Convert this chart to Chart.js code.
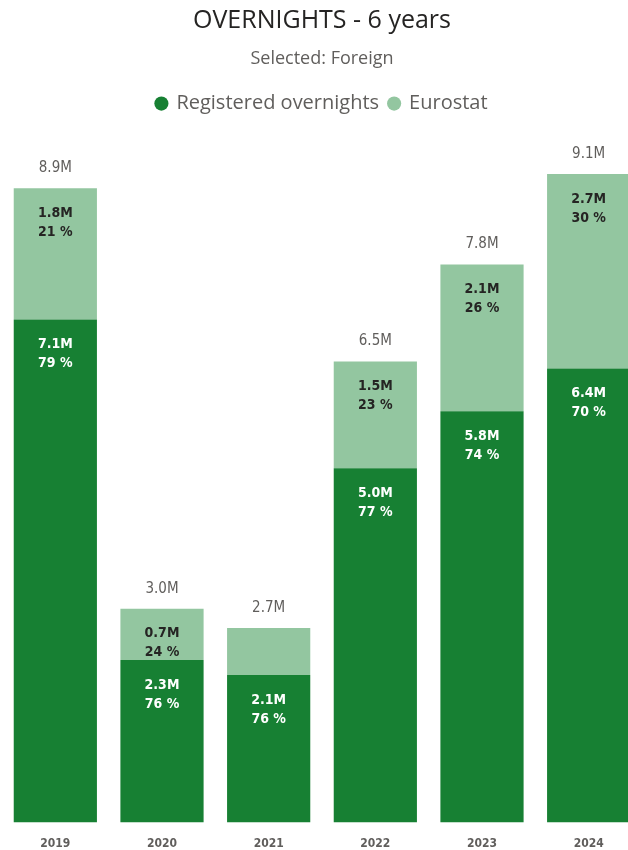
<!DOCTYPE html>
<html>
<head>
<meta charset="utf-8">
<script src="https://cdn.jsdelivr.net/npm/chart.js@4.4.1/dist/chart.umd.min.js"></script>
<style>
  html, body { margin: 0; padding: 0; background: #ffffff; overflow: hidden; }
  #wrap { width: 628px; height: 850px; overflow: hidden; position: relative; }
  #box { width: 642px; height: 850px; position: absolute; left: 0; top: 0; }
</style>
</head>
<body>
<div id="wrap"><div id="box"><canvas id="chart"></canvas></div></div>
<script>
// Overnights of foreign guests, millions
const years = ['2019', '2020', '2021', '2022', '2023', '2024'];
const registered = [7.06, 2.28, 2.07, 4.97, 5.77, 6.37];
const eurostat = [1.84, 0.72, 0.66, 1.50, 2.06, 2.73];
const seriesNames = ['Registered overnights', 'Eurostat'];

const DARK = '#178033';
const LIGHT = '#93C6A0';
const LABEL_FONT = '"DejaVu Sans Condensed", "DejaVu Sans", sans-serif';
const TEXT_FONT = '"Open Sans", sans-serif';

const fmtM = v => v.toFixed(1) + 'M';
const fmtPct = (v, t) => Math.round(v / t * 100) + ' %';

// value / share labels inside each segment, total above each stack
const segmentLabels = {
  id: 'segmentLabels',
  afterDatasetsDraw(chart) {
    const ctx = chart.ctx;
    const metas = [chart.getDatasetMeta(0), chart.getDatasetMeta(1)];
    const series = [registered, eurostat];
    const colors = ['#ffffff', '#252423'];
    ctx.save();
    ctx.textAlign = 'center';
    ctx.textBaseline = 'middle';
    years.forEach((y, i) => {
      const total = registered[i] + eurostat[i];
      metas.forEach((meta, s) => {
        const bar = meta.data[i];
        const h = bar.base - bar.y;
        if (h < 49) return; // too short for a two-line label
        ctx.fillStyle = colors[s];
        ctx.font = 'bold 14px ' + LABEL_FONT;
        ctx.fillText(fmtM(series[s][i]), bar.x, bar.y + 25);
        ctx.fillText(fmtPct(series[s][i], total), bar.x, bar.y + 44);
      });
      const top = metas[1].data[i];
      ctx.fillStyle = '#605E5C';
      ctx.font = '15px ' + LABEL_FONT;
      ctx.fillText(fmtM(total), top.x, top.y - 20);
    });
    ctx.restore();
  }
};

// extra room between the legend and the plot
const legendGap = {
  id: 'legendGap',
  beforeInit(chart) {
    const fit = chart.legend.fit;
    chart.legend.fit = function () {
      fit.call(this);
      this.height += 29;
    };
  }
};

new Chart(document.getElementById('chart'), {
  type: 'bar',
  data: {
    labels: years,
    datasets: [
      { label: seriesNames[0], data: registered, backgroundColor: DARK, borderWidth: 0 },
      { label: seriesNames[1], data: eurostat, backgroundColor: LIGHT, borderWidth: 0 }
    ]
  },
  options: {
    responsive: true,
    maintainAspectRatio: false,
    animation: false,
    barPercentage: 0.78,
    categoryPercentage: 1,
    layout: { padding: { left: 2, right: 0, top: 0, bottom: -15 } },
    plugins: {
      title: {
        display: true,
        text: 'OVERNIGHTS - 6 years',
        color: '#252423',
        font: { family: TEXT_FONT, size: 25, weight: 'normal' },
        padding: { top: 6, bottom: 5 }
      },
      subtitle: {
        display: true,
        text: 'Selected: Foreign',
        color: '#605E5C',
        font: { family: TEXT_FONT, size: 18, weight: 'normal' },
        padding: { top: 7, bottom: 14 }
      },
      legend: {
        display: true,
        position: 'top',
        labels: {
          usePointStyle: true,
          pointStyle: 'circle',
          boxWidth: 10,
          boxHeight: 10,
          padding: 10,
          color: '#605E5C',
          font: { family: TEXT_FONT, size: 20 }
        }
      },
      tooltip: { enabled: false }
    },
    scales: {
      x: {
        stacked: true,
        grid: { display: false, drawTicks: false },
        border: { display: false },
        ticks: {
          color: '#605E5C',
          padding: 14,
          font: { family: LABEL_FONT, size: 12, weight: 'bold' }
        }
      },
      y: {
        stacked: true,
        display: false,
        min: 0,
        max: 9.4
      }
    }
  },
  plugins: [segmentLabels, legendGap]
});
</script>
</body>
</html>
